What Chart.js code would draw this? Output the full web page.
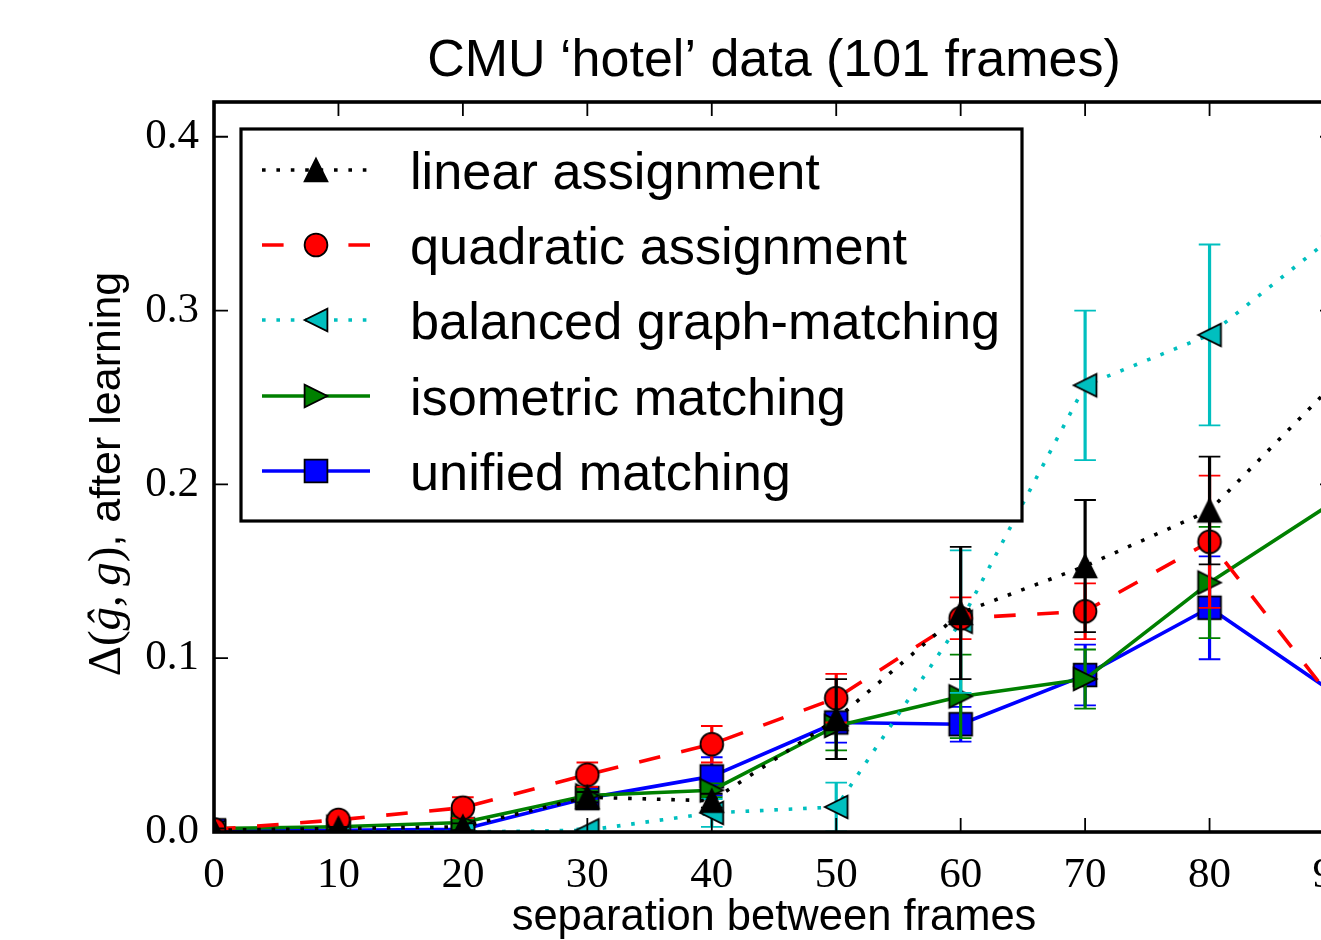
<!DOCTYPE html>
<html lang="en">
<head>
  <meta charset="UTF-8">
  <title>CMU hotel data</title>
  <script src="https://cdn.jsdelivr.net/npm/chart.js"></script>
  <style>
    html, body { margin: 0; padding: 0; background: #fff; overflow: hidden; }
    #wrap { width: 1400px; height: 940px; }
  </style>
</head>
<body>
  <div id="wrap">
    <canvas id="matchChart" width="1400" height="940"></canvas>
  </div>

  <script>
    // separation between frames (x) and the tick values of both axes
    const separations = [0, 10, 20, 30, 40, 50, 60, 70, 80, 90];
    const xTickValues = [0, 10, 20, 30, 40, 50, 60, 70, 80, 90];
    const yTickValues = [0, 0.1, 0.2, 0.3, 0.4];

    // mean error after learning, and the +/- spread for each method
    const linearAssign    = [0.001, 0.002, 0.003, 0.020, 0.018, 0.065, 0.126, 0.153, 0.185, 0.258];
    const linearAssignErr = [0.001, 0.001, 0.002, 0.003, 0.004, 0.023, 0.038, 0.038, 0.031, 0.040];
    const quadAssign      = [0.0015, 0.007, 0.014, 0.033, 0.0505, 0.077, 0.123, 0.127, 0.167, 0.075];
    const quadAssignErr   = [0.001, 0.002, 0.006, 0.007, 0.0105, 0.014, 0.012, 0.016, 0.038, 0.030];
    const balancedGM      = [0, 0, 0, 0.001, 0.011, 0.0144, 0.121, 0.257, 0.286, 0.343];
    const balancedGMErr   = [0, 0, 0, 0.001, 0.008, 0.014, 0.041, 0.043, 0.052, 0.050];
    const isometric       = [0.002, 0.003, 0.0055, 0.021, 0.024, 0.061, 0.078, 0.088, 0.1435, 0.190];
    const isometricErr    = [0.001, 0.001, 0.002, 0.003, 0.004, 0.014, 0.024, 0.017, 0.032, 0.040];
    const unified         = [0.001, 0.001, 0.0016, 0.0195, 0.032, 0.063, 0.062, 0.0903, 0.129, 0.080];
    const unifiedErr      = [0.001, 0.001, 0.002, 0.003, 0.011, 0.0116, 0.010, 0.0175, 0.0296, 0.030];

    const seriesNames = ['linear assignment', 'quadratic assignment', 'balanced graph-matching',
                         'isometric matching', 'unified matching'];
    const seriesMeans = [linearAssign, quadAssign, balancedGM, isometric, unified];
    const seriesErrors = [linearAssignErr, quadAssignErr, balancedGMErr, isometricErr, unifiedErr];

    // look of each series
    const LW = 3.6;
    const DOTTED = [3.6, 10.8];
    const DASHED = [21.6, 21.6];
    const seriesStyle = [
      { color: '#000000', dash: DOTTED, marker: 'up' },
      { color: '#ff0000', dash: DASHED, marker: 'circle' },
      { color: '#00bfbf', dash: DOTTED, marker: 'left' },
      { color: '#008000', dash: [],     marker: 'right' },
      { color: '#0000ff', dash: [],     marker: 'square' }
    ];

    // marker sprites, black edged like the old matplotlib defaults
    function makeMarker(shape, fill) {
      const c = document.createElement('canvas');
      c.width = 30; c.height = 30;
      const g = c.getContext('2d');
      const h = 11.4;
      g.translate(15, 15);
      g.beginPath();
      if (shape === 'circle') {
        g.arc(0, 0, h, 0, Math.PI * 2);
      } else if (shape === 'square') {
        g.rect(-h, -h, 2 * h, 2 * h);
      } else if (shape === 'up') {
        g.moveTo(0, -h); g.lineTo(h, h); g.lineTo(-h, h);
      } else if (shape === 'left') {
        g.moveTo(-h, 0); g.lineTo(h, -h); g.lineTo(h, h);
      } else if (shape === 'right') {
        g.moveTo(h, 0); g.lineTo(-h, h); g.lineTo(-h, -h);
      }
      g.closePath();
      g.fillStyle = fill;
      g.fill();
      g.lineWidth = 1.8;
      g.lineJoin = 'miter';
      g.strokeStyle = '#000';
      g.stroke();
      return c;
    }

    const markers = seriesStyle.map(s => makeMarker(s.marker, s.color));

    const datasets = seriesMeans.map((vals, i) => ({
      label: seriesNames[i],
      data: separations.map((x, j) => ({ x: x, y: vals[j] })),
      borderColor: seriesStyle[i].color,
      backgroundColor: seriesStyle[i].color,
      borderWidth: LW,
      borderDash: seriesStyle[i].dash,
      borderJoinStyle: 'round',
      pointStyle: markers[i],
      pointRadius: 11,
      tension: 0,
      fill: false,
      clip: 0
    }));

    // vertical error bars with caps, drawn right under their own series
    const errorBarPlugin = {
      id: 'errorBars',
      beforeDatasetDraw(chart, args) {
        const ds = chart.data.datasets[args.index];
        const errs = seriesErrors[args.index];
        const { ctx, chartArea: a, scales: { x, y } } = chart;
        ctx.save();
        ctx.beginPath();
        ctx.rect(a.left, a.top, a.right - a.left, a.bottom - a.top);
        ctx.clip();
        ctx.strokeStyle = ds.borderColor;
        ctx.setLineDash([]);
        ds.data.forEach((pt, i) => {
          const px = x.getPixelForValue(pt.x);
          const top = y.getPixelForValue(pt.y + errs[i]);
          const bot = y.getPixelForValue(pt.y - errs[i]);
          ctx.lineWidth = 3.2;
          ctx.beginPath();
          ctx.moveTo(px, top);
          ctx.lineTo(px, bot);
          ctx.stroke();
          ctx.lineWidth = 1.8;
          ctx.beginPath();
          ctx.moveTo(px - 10.8, top); ctx.lineTo(px + 10.8, top);
          ctx.moveTo(px - 10.8, bot); ctx.lineTo(px + 10.8, bot);
          ctx.stroke();
        });
        ctx.restore();
      }
    };

    // box around the axes with inward ticks on every side
    const framePlugin = {
      id: 'frame',
      afterDatasetsDraw(chart) {
        const { ctx, chartArea: a, scales: { x, y } } = chart;
        ctx.save();
        ctx.strokeStyle = '#000';
        ctx.lineWidth = 1.8;
        ctx.beginPath();
        xTickValues.forEach(v => {
          const px = x.getPixelForValue(v);
          ctx.moveTo(px, a.bottom); ctx.lineTo(px, a.bottom - 14);
          ctx.moveTo(px, a.top); ctx.lineTo(px, a.top + 14);
        });
        yTickValues.forEach(v => {
          const py = y.getPixelForValue(v);
          ctx.moveTo(a.left, py); ctx.lineTo(a.left + 14, py);
          ctx.moveTo(a.right, py); ctx.lineTo(a.right - 14, py);
        });
        ctx.stroke();
        ctx.lineWidth = 3.6;
        ctx.strokeRect(a.left, a.top, a.right - a.left, a.bottom - a.top);
        ctx.restore();
      }
    };

    // legend box in the upper left of the axes
    const legendPlugin = {
      id: 'boxLegend',
      afterDraw(chart) {
        const ctx = chart.ctx;
        const box = { x: 241, y: 129, w: 781, h: 392 };
        const rowY = [170, 245, 320, 396, 471];
        ctx.save();
        ctx.fillStyle = '#fff';
        ctx.fillRect(box.x, box.y, box.w, box.h);
        ctx.lineWidth = 3.2;
        ctx.strokeStyle = '#000';
        ctx.strokeRect(box.x, box.y, box.w, box.h);
        seriesNames.forEach((name, i) => {
          const st = seriesStyle[i];
          ctx.strokeStyle = st.color;
          ctx.lineWidth = LW;
          ctx.setLineDash(st.dash);
          ctx.beginPath();
          ctx.moveTo(262, rowY[i]);
          ctx.lineTo(370, rowY[i]);
          ctx.stroke();
          ctx.setLineDash([]);
          ctx.drawImage(markers[i], 316 - 15, rowY[i] - 15);
          ctx.fillStyle = '#000';
          ctx.font = '52.3px "Liberation Sans", Arial, sans-serif';
          ctx.textAlign = 'left';
          ctx.textBaseline = 'alphabetic';
          ctx.fillText(name, 410, rowY[i] + 19);
        });
        ctx.restore();
      }
    };

    // title and the two axis labels
    const labelPlugin = {
      id: 'labels',
      afterDraw(chart) {
        const { ctx, chartArea: a } = chart;
        const cx = (a.left + a.right) / 2;
        ctx.save();
        ctx.fillStyle = '#000';
        ctx.textAlign = 'center';
        ctx.textBaseline = 'alphabetic';
        ctx.font = '52px "Liberation Sans", Arial, sans-serif';
        ctx.fillText('CMU \u2018hotel\u2019 data (101 frames)', cx, 76);
        ctx.font = '43.5px "Liberation Sans", Arial, sans-serif';
        ctx.fillText('separation between frames', cx, 930);

        // y label: math part in serif, the rest in sans
        const serif = '47px "Liberation Serif", "DejaVu Serif", serif';
        const serifIt = 'italic 47px "Liberation Serif", "DejaVu Serif", serif';
        const sans = '43px "Liberation Sans", Arial, sans-serif';
        const parts = [
          { t: '\u0394(', f: serif },
          { t: '\u011D', f: serifIt },
          { t: ',\u2009', f: serif },
          { t: 'g', f: serifIt },
          { t: ')', f: serif },
          { t: ', after learning', f: sans }
        ];
        let total = 0;
        parts.forEach(p => { ctx.font = p.f; p.w = ctx.measureText(p.t).width; total += p.w; });
        ctx.translate(120, 474);
        ctx.rotate(-Math.PI / 2);
        ctx.textAlign = 'left';
        let px = -total / 2;
        parts.forEach(p => { ctx.font = p.f; ctx.fillText(p.t, px, 0); px += p.w; });
        ctx.restore();
      }
    };

    const tickFont = { family: '"Liberation Serif", "DejaVu Serif", serif', size: 43 };

    new Chart(document.getElementById('matchChart').getContext('2d'), {
      type: 'line',
      data: { datasets: datasets },
      options: {
        responsive: false,
        animation: false,
        events: [],
        layout: { padding: { top: 102, right: 66, left: 0, bottom: 0 } },
        scales: {
          x: {
            type: 'linear',
            min: 0,
            max: 90,
            grid: { display: false },
            border: { display: false },
            afterFit(scale) { scale.height = 108; },
            afterBuildTicks(scale) { scale.ticks = xTickValues.map(v => ({ value: v })); },
            ticks: {
              font: tickFont,
              color: '#000',
              padding: 10,
              autoSkip: false,
              maxRotation: 0,
              callback: v => String(v)
            }
          },
          y: {
            type: 'linear',
            min: 0,
            max: 0.42,
            grid: { display: false },
            border: { display: false },
            afterFit(scale) { scale.width = 214; },
            afterBuildTicks(scale) { scale.ticks = yTickValues.map(v => ({ value: v })); },
            ticks: {
              font: tickFont,
              color: '#000',
              padding: 7,
              callback: v => v.toFixed(1)
            }
          }
        },
        plugins: {
          legend: { display: false },
          tooltip: { enabled: false },
          title: { display: false }
        }
      },
      plugins: [errorBarPlugin, framePlugin, legendPlugin, labelPlugin]
    });
  </script>
</body>
</html>
